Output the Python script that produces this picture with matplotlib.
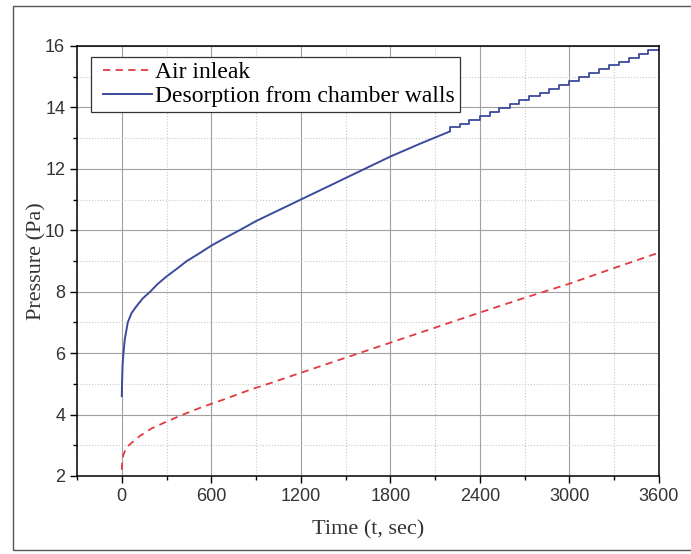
import numpy as np
import matplotlib.pyplot as plt
from matplotlib.patches import Rectangle
from matplotlib.ticker import MultipleLocator
from matplotlib.lines import Line2D
from matplotlib.legend_handler import HandlerLine2D

# data
# air inleak (red dashed)
inleak_t = [0, 3, 10, 20, 40, 76, 120, 200, 300, 400, 525, 700, 861, 1000, 1200, 1500, 1800,
            2100, 2400, 2700, 3000, 3300, 3600]
inleak_p = [2.2, 2.5, 2.68, 2.8, 2.97, 3.12, 3.3, 3.55, 3.77, 3.98, 4.22, 4.52, 4.81, 5.03, 5.36,
            5.85, 6.34, 6.83, 7.32, 7.8, 8.26, 8.77, 9.27]

# desorption from chamber walls (blue), smooth part
desorb_t = [0, 2, 5, 11, 20, 40, 65, 94, 140, 190, 240, 301, 370, 436, 520, 600, 700, 800, 900,
            1050, 1200, 1500, 1800, 2000, 2200]
desorb_p = [4.6, 5.1, 5.6, 6.0, 6.45, 7.0, 7.3, 7.5, 7.78, 8.0, 8.25, 8.5, 8.75, 9.0, 9.25, 9.5,
            9.77, 10.03, 10.3, 10.65, 11.0, 11.7, 12.4, 12.82, 13.22]

# staircase part of the desorption curve
step_t = [2200, 2265, 2330, 2400, 2465, 2530, 2600, 2665, 2730, 2800, 2865, 2930, 3000,
          3065, 3130, 3200, 3265, 3330, 3400, 3465, 3530, 3600]
step_p = [13.22, 13.35, 13.47, 13.6, 13.73, 13.85, 13.98, 14.1, 14.23, 14.36, 14.48, 14.61, 14.74,
          14.86, 14.99, 15.11, 15.24, 15.37, 15.49, 15.62, 15.75, 15.88]

red = '#e23a3f'
blue = '#3c4a9c'

fig = plt.figure(figsize=(6.91, 5.54), dpi=100)
ax = fig.add_axes([0.1115, 0.1408, 0.842, 0.7762])

# outer frame around the picture
fig.patches.append(Rectangle((13/691, 4/554), 1.1, (550-6)/554, transform=fig.transFigure,
                             fill=False, edgecolor='#555555', linewidth=1.0))

ax.plot(inleak_t, inleak_p, color=red, linestyle=(0, (4, 3)), linewidth=1.3, label='Air inleak')
ax.plot(desorb_t, desorb_p, color=blue, linewidth=1.4, label='Desorption from chamber walls')
ax.plot(step_t, step_p, color=blue, linewidth=1.3, drawstyle='steps-pre')

ax.set_xlim(-300, 3600)
ax.set_ylim(2, 16)
ax.set_xticks([0, 600, 1200, 1800, 2400, 3000, 3600])
ax.xaxis.set_minor_locator(MultipleLocator(300))
ax.yaxis.set_major_locator(MultipleLocator(2))
ax.yaxis.set_minor_locator(MultipleLocator(1))

ax.grid(which='major', color='#a0a0a0', linewidth=0.8)
ax.grid(which='minor', color='#c8c8c8', linewidth=0.8, linestyle=':')
ax.set_axisbelow(True)

ax.tick_params(which='major', direction='out', length=5, width=1, labelsize=13)
ax.tick_params(which='minor', direction='out', length=3, width=1)
for lab in ax.get_xticklabels() + ax.get_yticklabels():
    lab.set_fontfamily('Liberation Sans')
    lab.set_color('#333333')
for s in ax.spines.values():
    s.set_linewidth(1.1)

ax.set_xlabel('Time (t, sec)', fontfamily='Liberation Serif', fontsize=16, color='#333333', labelpad=11)
ax.set_ylabel('Pressure (Pa)', fontfamily='Liberation Serif', fontsize=16, color='#333333')
ax.yaxis.set_label_coords(-0.053, 0.5)

leg = ax.legend(loc='upper left', bbox_to_anchor=(0.024, 0.975), borderaxespad=0,
                prop={'family': 'Liberation Serif', 'size': 17}, fancybox=False,
                edgecolor='#333333', framealpha=1, handlelength=2.39, handletextpad=0.13,
                borderpad=0.2, labelspacing=0.12,
                handler_map={Line2D: HandlerLine2D(xpad=0.31)})
leg.get_frame().set_linewidth(0.9)

fig.savefig('out.png', dpi=100)
